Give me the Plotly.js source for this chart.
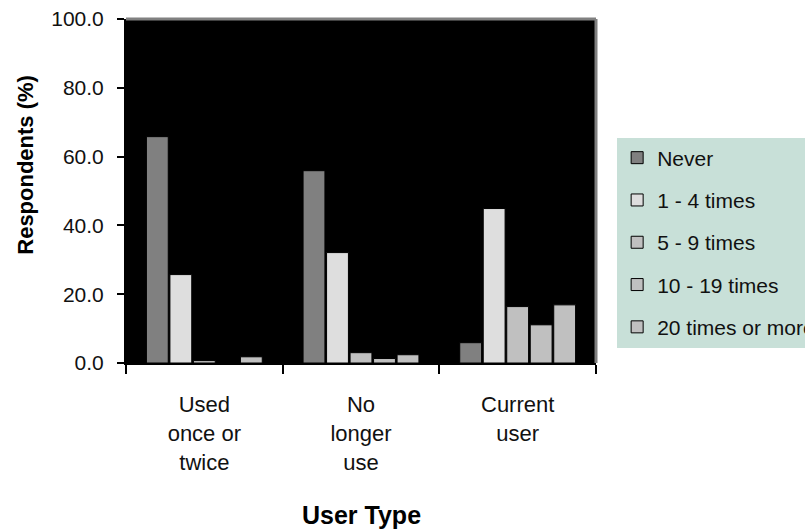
<!DOCTYPE html>
<html>
<head>
<meta charset="utf-8">
<script src="https://cdn.plot.ly/plotly-3.0.1.min.js"></script>
<style>html,body{margin:0;padding:0;background:#fff;}#chart{width:805px;height:532px;}</style>
</head>
<body>
<div id="chart"></div>
<script>
const categories = ["Used<br>once or<br>twice", "No<br>longer<br>use", "Current<br>user"];
const seriesNames = ["Never", "1 - 4 times", "5 - 9 times", "10 - 19 times", "20 times or more"];
const never = [65.8, 55.9, 5.9];
const times1to4 = [25.7, 32.1, 44.9];
const times5to9 = [0.7, 3.0, 16.4];
const times10to19 = [0.0, 1.3, 11.1];
const times20plus = [1.8, 2.4, 16.9];
const yTicks = [0, 20, 40, 60, 80, 100];
const yTickText = ["0.0", "20.0", "40.0", "60.0", "80.0", "100.0"];

const seriesValues = [never, times1to4, times5to9, times10to19, times20plus];
const colors = ["#808080", "#dedede", "#c0c0c0", "#c0c0c0", "#c0c0c0"];

const sans = "'Liberation Sans', Arial, sans-serif";

const traces = seriesNames.map((name, i) => ({
  type: "bar",
  name: name,
  x: categories,
  y: seriesValues[i],
  legendgroup: "g" + i,
  marker: { color: colors[i], line: { color: "#000", width: 1 } },
  hoverinfo: "x+y+name"
}));

const layout = {
  width: 805,
  height: 532,
  margin: { l: 126, r: 209, t: 19, b: 168.5, autoexpand: false },
  paper_bgcolor: "#ffffff",
  plot_bgcolor: "#000000",
  barmode: "group",
  bargap: 0.25,
  bargroupgap: 0.07,
  showlegend: true,
  legend: {
    x: 1.045, xanchor: "left",
    y: 0.6555, yanchor: "top",
    bgcolor: "#c8e0d8",
    borderwidth: 0,
    font: { family: sans, size: 21, color: "#111" },
    traceorder: "grouped",
    tracegroupgap: 12,
    itemwidth: 30
  },
  xaxis: {
    type: "category",
    showgrid: false,
    zeroline: false,
    showline: true,
    linecolor: "#000",
    linewidth: 2,
    ticks: "outside",
    tickson: "boundaries",
    ticklen: 9,
    tickwidth: 2,
    tickcolor: "#000",
    ticklabelstandoff: 21,
    tickfont: { family: sans, size: 22, color: "#111" },
    fixedrange: true
  },
  yaxis: {
    range: [0, 100],
    tickvals: yTicks,
    ticktext: yTickText,
    showgrid: false,
    zeroline: false,
    showline: true,
    linecolor: "#000",
    linewidth: 2,
    ticks: "outside",
    ticklen: 7,
    tickwidth: 2,
    tickcolor: "#000",
    ticklabelstandoff: 9,
    tickfont: { family: sans, size: 21, color: "#111" },
    fixedrange: true
  },
  shapes: [
    { type: "line", xref: "paper", yref: "paper", x0: 0, x1: 1, y0: 1, y1: 1, line: { color: "#808080", width: 3 } },
    { type: "line", xref: "paper", yref: "paper", x0: 1, x1: 1, y0: 0, y1: 1, line: { color: "#808080", width: 3 } }
  ],
  annotations: [
    { text: "<b>Respondents (%)</b>", xref: "paper", yref: "paper", x: -0.213, y: 0.576, xanchor: "center", yanchor: "middle", textangle: -90, showarrow: false, font: { family: sans, size: 22, color: "#000" } },
    { text: "<b>User Type</b>", xref: "paper", yref: "paper", x: 0.5, y: -0.443, xanchor: "center", yanchor: "middle", showarrow: false, font: { family: sans, size: 25, color: "#000" } }
  ]
};

Plotly.newPlot("chart", traces, layout, { displayModeBar: false, staticPlot: true });
</script>
</body>
</html>
